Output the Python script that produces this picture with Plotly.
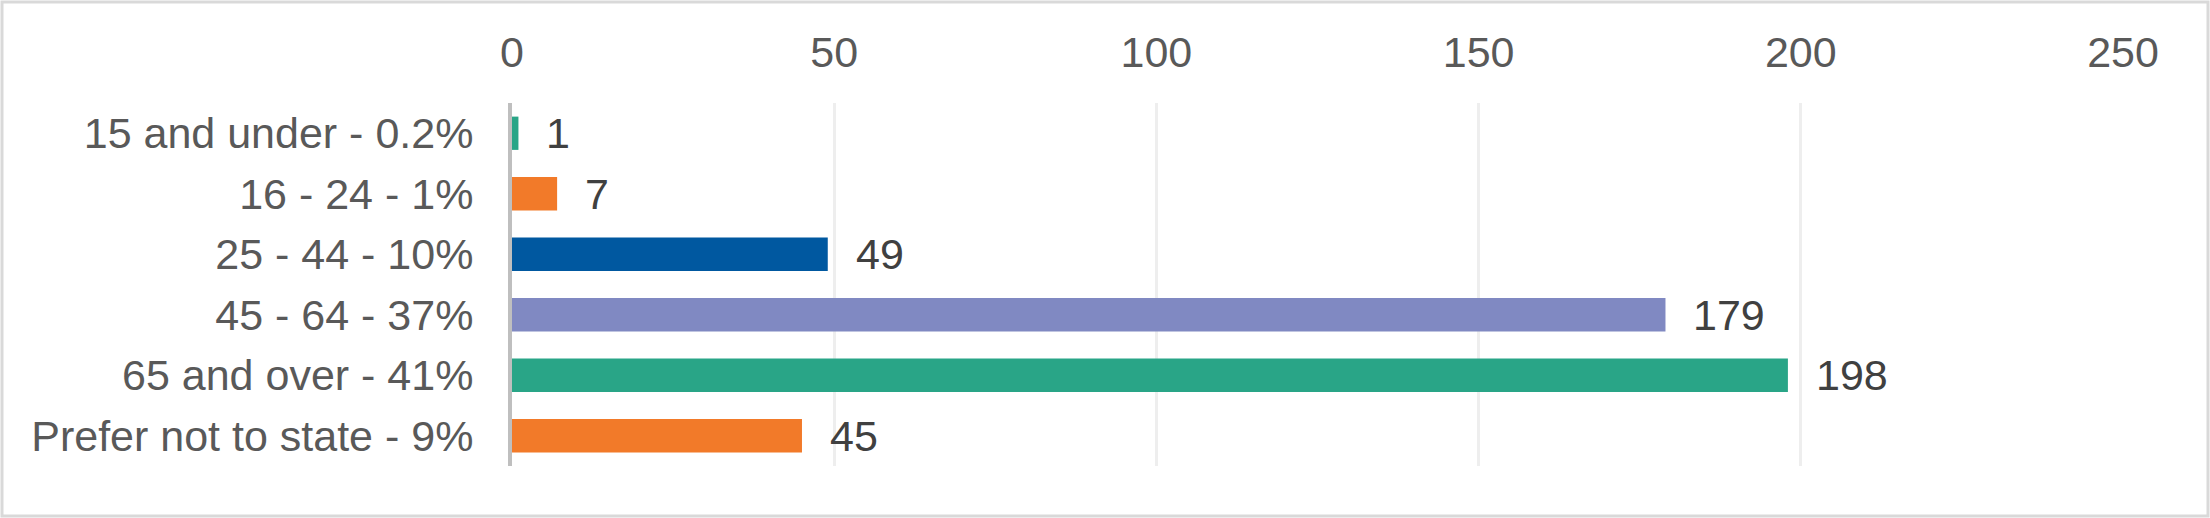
import plotly.graph_objects as go

# Данные графика
categories = ["15 and under - 0.2%", "16 - 24 - 1%", "25 - 44 - 10%",
              "45 - 64 - 37%", "65 and over - 41%", "Prefer not to state - 9%"]
counts = [1, 7, 49, 179, 198, 45]
bar_colors = ["#29A587", "#F27A29", "#0058A0", "#8089C2", "#29A587", "#F27A29"]
x_ticks = [0, 50, 100, 150, 200, 250]

W, H = 2210, 518
M = dict(l=512, r=87, t=103, b=52)
FONT = "Liberation Sans, Arial, sans-serif"
FS = 43

fig = go.Figure()

fig.add_trace(go.Bar(
    x=counts, y=categories, orientation="h",
    marker=dict(color=bar_colors, line=dict(width=0)),
    width=0.55, hoverinfo="x+y",
))

# Подписи значений справа от столбцов
for c, v in zip(categories, counts):
    fig.add_annotation(x=v, y=c, text=str(v), showarrow=False,
                       xanchor="left", xshift=26,
                       font=dict(family=FONT, size=FS, color="#404040"))

# Рамка вокруг всей картинки
pw = W - M["l"] - M["r"]
ph = H - M["t"] - M["b"]
fig.add_shape(type="rect", xref="paper", yref="paper",
              x0=-(M["l"] - 2) / pw, x1=1 + (M["r"] - 2) / pw,
              y0=-(M["b"] - 2) / ph, y1=1 + (M["t"] - 2) / ph,
              line=dict(color="#D9D9D9", width=3), layer="below")

fig.update_layout(
    width=W, height=H, margin=M,
    plot_bgcolor="white", paper_bgcolor="white",
    showlegend=False,
    font=dict(family=FONT, size=FS, color="#595959"),
    xaxis=dict(side="top", range=[0, 250], tickvals=x_ticks,
               showgrid=True, gridcolor="#EEEEEE", gridwidth=3,
               zeroline=False, showline=False,
               ticks="outside", ticklen=18, tickcolor="white",
               tickfont=dict(size=FS, color="#595959")),
    yaxis=dict(autorange="reversed", showgrid=False, zeroline=False,
               showline=True, linecolor="#BFBFBF", linewidth=4,
               ticks="", ticklabelstandoff=26,
               tickfont=dict(size=FS, color="#595959")),
)

# убираем отступ body, чтобы график стоял ровно в углу окна
fig.write_html("out.html", config={"displayModeBar": False},
               post_script="document.body.style.margin='0';")
